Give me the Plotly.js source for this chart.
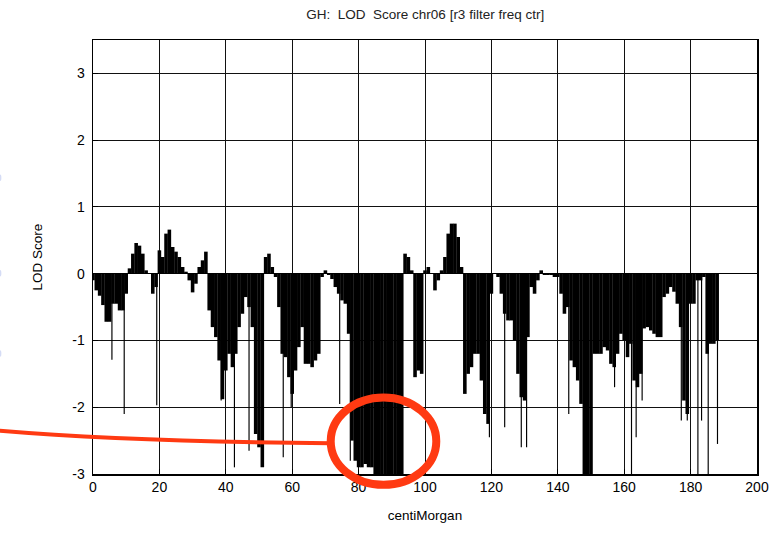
<!DOCTYPE html>
<html>
<head>
<meta charset="utf-8">
<script src="https://cdn.plot.ly/plotly-3.0.1.min.js"></script>
<style>html,body{margin:0;padding:0;background:#fff;}#chart{width:776px;height:533px;}</style>
</head>
<body>
<div id="chart"></div>
<script>
// Body of the LOD profile, one value per cM position
const bodyPos = [0,1,2,3,4,5,6,7,8,9,10,11,12,13,14,15,16,17,18,19,20,21,22,23,24,25,26,27,28,29,
30,31,32,33,34,35,36,37,38,39,40,41,42,43,44,45,46,47,48,49,50,51,52,53,54,55,56,57,58,59,
60,61,62,63,64,65,66,67,68,69,70,71,72,73,74,75,76,77,78,79,80,81,82,83,84,85,86,87,88,89,
90,91,92,93,94,95,96,97,98,99,100,101,102,103,104,105,106,107,108,109,110,111,112,113,114,115,116,117,118,119,
120,121,122,123,124,125,126,127,128,129,130,131,132,133,134,135,136,137,138,139,140,141,142,143,144,145,146,147,148,149,
150,151,152,153,154,155,156,157,158,159,160,161,162,163,164,165,166,167,168,169,170,171,172,173,174,175,176,177,178,179,
180,181,182,183,184,185,186,187,188];
const bodyLod = [-0.10,-0.25,-0.33,-0.47,-0.72,-0.72,-0.45,-0.45,-0.55,-0.55,-0.30,0.08,0.30,0.46,0.42,0.30,0.05,0.00,-0.30,-0.20,
0.35,0.25,0.60,0.66,0.40,0.33,0.25,0.10,0.03,-0.10,-0.28,-0.15,0.10,0.20,0.33,-0.55,-0.80,-0.95,-1.30,-1.88,
-1.45,-1.20,-1.40,-1.20,-0.80,-0.60,-0.35,-0.50,-0.80,-2.40,-2.60,-2.90,0.25,0.30,0.10,-0.05,-0.50,-1.20,-1.25,-1.55,
-1.80,-1.45,-1.10,-0.80,-1.35,-1.35,-1.40,-1.30,-1.20,-0.05,0.05,-0.02,-0.08,-0.20,-0.30,-0.40,-0.45,-0.90,-2.50,-2.80,
-2.90,-2.90,-2.85,-2.90,-2.90,-3.00,-3.00,-3.00,-3.00,-3.00,-3.00,-3.00,-3.00,-3.00,0.30,0.25,0.05,-1.55,-1.45,-1.50,
0.05,0.10,0.00,-0.25,-0.10,0.05,0.25,0.60,0.75,0.75,0.55,0.10,-1.80,-1.50,-1.40,-1.20,-1.20,-1.60,-2.10,-2.25,
-0.30,0.00,-0.05,-0.30,-0.60,-0.70,-0.70,-1.00,-1.50,-1.85,-1.90,-0.95,-0.20,-0.30,-0.10,0.05,-0.02,-0.02,-0.02,-0.05,
-0.05,-0.30,-0.60,-0.50,-1.30,-1.40,-1.60,-1.95,-3.00,-3.00,-3.00,-1.20,-1.20,-1.20,-1.10,-1.15,-1.35,-1.40,-1.20,-0.90,
-1.00,-1.25,-1.05,-1.60,-1.70,-1.50,-0.82,-0.80,-0.85,-0.90,-0.95,-0.95,-0.35,-0.30,-0.20,-0.27,-0.45,-0.80,-1.90,-2.10,
-0.45,-0.45,-0.10,-0.10,-0.05,-1.20,-1.05,-1.05,-1.00];

// Isolated deep single-marker spikes
const spikePos = [5.7,9.4,19.2,38.6,42.6,47.0,57.3,59.7,74.3,77.5,119.4,124.0,129.0,130.6,143.3,157.1,162.2,163.6,165.4,177.2,179.0,182.2,183.3,185.3,188.1];
const spikeLod = [-1.29,-2.10,-1.97,-1.90,-2.90,-2.65,-2.75,-2.00,-1.95,-2.80,-2.45,-2.30,-2.60,-2.60,-2.10,-1.70,-3.00,-2.45,-1.90,-2.20,-2.20,-3.00,-2.20,-3.00,-2.55];

const xTicks = [0,20,40,60,80,100,120,140,160,180,200];
const yTicks = [-3,-2,-1,0,1,2,3];
const yTickText = ['-3','-2','-1','0','1','2','3'];

const traces = [
  {type:'bar', x: bodyPos, y: bodyLod, width: 1.08, marker:{color:'#000', line:{width:0}}, hoverinfo:'x+y'},
  {type:'bar', x: spikePos, y: spikeLod, width: 0.35, marker:{color:'#000', line:{width:0}}, hoverinfo:'x+y'}
];

const layout = {
  width: 776, height: 533,
  margin: {l:93, r:19, t:40, b:59, pad:0},
  paper_bgcolor:'#fff', plot_bgcolor:'#fff',
  showlegend:false, barmode:'overlay',
  font:{family:'Liberation Sans, Arial, sans-serif', size:13, color:'#000'},
  title:{text:'GH:\u00a0 LOD\u00a0 Score chr06 [r3 filter freq ctr]', x:0.548, xanchor:'center', y:0.974, yanchor:'middle', font:{size:13.5, color:'#222'}},
  xaxis:{range:[0,200], tickvals:xTicks, ticks:'inside', ticklen:5, tickcolor:'#000',
         showgrid:true, gridcolor:'#111', gridwidth:1, zeroline:false,
         showline:true, linecolor:'#000', linewidth:1.5, mirror:true,
         tickfont:{size:14}, title:{text:'centiMorgan', font:{size:13.5}, standoff:16}},
  yaxis:{range:[-3,3.5], tickvals:yTicks, ticktext:yTickText, ticks:'inside', ticklen:5, tickcolor:'#000',
         showgrid:true, gridcolor:'#111', gridwidth:1, zeroline:true, zerolinecolor:'#000', zerolinewidth:1,
         showline:true, linecolor:'#000', linewidth:1.5, mirror:true,
         tickfont:{size:14}, ticklabelstandoff:4, title:{text:'LOD Score', font:{size:13.5}, standoff:26}},
  shapes:[
    {type:'path', xref:'paper', yref:'paper', path:'M -0.142,0.100 Q 0.05,0.075 0.358,0.071', line:{color:'#ff3a12', width:4}},
    {type:'circle', xref:'paper', yref:'paper', x0:0.358, x1:0.517, y0:-0.025, y1:0.176, line:{color:'#ff3a12', width:8}},
    {type:'circle', xref:'paper', yref:'paper', x0:-0.142, x1:-0.138, y0:0.675, y1:0.69, fillcolor:'#d5dcf5', line:{width:0}},
    {type:'circle', xref:'paper', yref:'paper', x0:-0.142, x1:-0.138, y0:0.455, y1:0.47, fillcolor:'#d5dcf5', line:{width:0}},
    {type:'circle', xref:'paper', yref:'paper', x0:-0.142, x1:-0.138, y0:0.27, y1:0.285, fillcolor:'#d5dcf5', line:{width:0}}
  ]
};

Plotly.newPlot('chart', traces, layout, {staticPlot:true, displayModeBar:false});
</script>
</body>
</html>
